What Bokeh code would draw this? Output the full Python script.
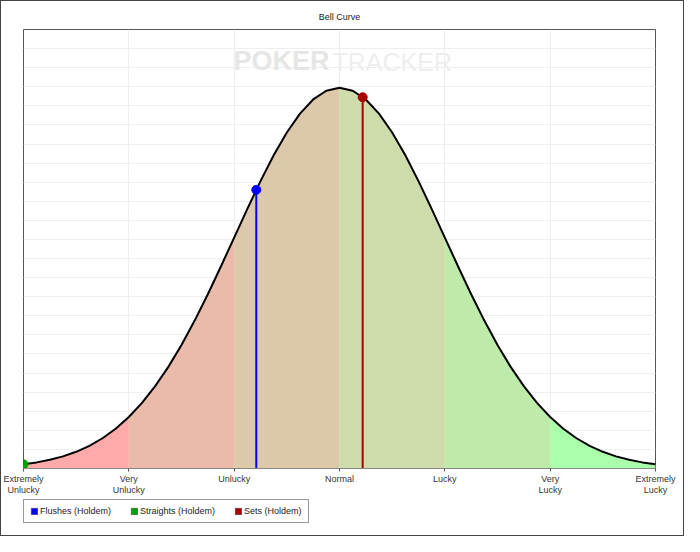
from bokeh.plotting import figure
from bokeh.layouts import column
from bokeh.models import (Range1d, FixedTicker, SingleIntervalTicker, Grid,
                          Legend, LegendItem, Label, ColumnDataSource)
from bokeh.embed import file_html
from bokeh.resources import INLINE

# ---- data ----
deviation = [-3.0, -2.875, -2.75, -2.625, -2.5, -2.375, -2.25, -2.125,
             -2.0, -1.875, -1.75, -1.625, -1.5, -1.375, -1.25, -1.125,
             -1.0, -0.875, -0.75, -0.625, -0.5, -0.375, -0.25, -0.125,
             0.0, 0.125, 0.25, 0.375, 0.5, 0.625, 0.75, 0.875,
             1.0, 1.125, 1.25, 1.375, 1.5, 1.625, 1.75, 1.875,
             2.0, 2.125, 2.25, 2.375, 2.5, 2.625, 2.75, 2.875, 3.0]
density = [0.0044, 0.0064, 0.0091, 0.0127, 0.0175, 0.0238, 0.0317, 0.0417,
           0.0540, 0.0688, 0.0863, 0.1065, 0.1295, 0.1550, 0.1826, 0.2119,
           0.2420, 0.2721, 0.3011, 0.3282, 0.3521, 0.3719, 0.3867, 0.3958,
           0.3989, 0.3958, 0.3867, 0.3719, 0.3521, 0.3282, 0.3011, 0.2721,
           0.2420, 0.2119, 0.1826, 0.1550, 0.1295, 0.1065, 0.0863, 0.0688,
           0.0540, 0.0417, 0.0317, 0.0238, 0.0175, 0.0127, 0.0091, 0.0064, 0.0044]

band_edges = [-3, -2, -1, 0, 1, 2, 3]
band_colors = ["#FFAAAA", "#E9BBA8", "#DEC8AA", "#CEDBAA", "#BEEAAA", "#AAFFAA"]

tick_values = [-3, -2, -1, 0, 1, 2, 3]
tick_labels = ["Extremely\nUnlucky", "Very\nUnlucky", "Unlucky", "Normal",
               "Lucky", "Very\nLucky", "Extremely\nLucky"]

hand_names = ["Flushes (Holdem)", "Straights (Holdem)", "Sets (Holdem)"]
hand_x = [-0.79, -3.0, 0.22]
hand_y = [0.292, 0.0044, 0.389]
hand_colors = ["#0000FF", "#00A000", "#AA0000"]

FONT = "Liberation Sans"
FS = "9px"

p = figure(width=682, height=496, output_backend="svg", toolbar_location=None,
           x_range=Range1d(-3, 3), y_range=Range1d(0, 0.46),
           y_axis_location=None,
           min_border_left=22, min_border_right=28, min_border_top=28,
           min_border_bottom=26)

p.title.text = "Bell Curve"
p.title.align = "center"
p.title.text_font = FONT
p.title.text_font_size = FS
p.title.text_font_style = "normal"
p.title.text_color = "#222222"
p.title.standoff = 16

p.outline_line_color = "#555555"
p.background_fill_color = "white"
p.border_fill_color = "white"

# grids
p.xgrid.ticker = FixedTicker(ticks=tick_values)
p.xgrid.grid_line_color = "#EEEEEE"
p.add_layout(Grid(dimension=1, ticker=SingleIntervalTicker(interval=0.02),
                  grid_line_color="#EEEEEE"))

# x axis
ax = p.xaxis[0]
ax.ticker = FixedTicker(ticks=tick_values)
ax.major_label_overrides = {v: l for v, l in zip(tick_values, tick_labels)}
ax.major_label_text_font = FONT
ax.major_label_text_font_size = FS
ax.major_label_text_color = "#333333"
ax.major_label_text_line_height = 1.1
ax.major_tick_in = 0
ax.major_tick_out = 3
ax.major_tick_line_color = "#555555"
ax.minor_tick_line_color = None
ax.axis_line_color = "#888888"
ax.major_label_standoff = 2

# watermark
p.add_layout(Label(x=-0.095, y=0.4114, text="POKER", text_align="right",
                   text_font=FONT, text_font_style="bold",
                   text_font_size="27px", text_color="#E6E6E6",
                   level="underlay"))
p.add_layout(Label(x=-0.066, y=0.4114, text="TRACKER", text_align="left",
                   text_font=FONT, text_font_size="25px",
                   text_color="#EEEEEE", level="underlay"))

# coloured bands under the curve
for i, c in enumerate(band_colors):
    lo, hi = band_edges[i], band_edges[i + 1]
    xs = [x for x in deviation if lo <= x <= hi]
    ys = [y for x, y in zip(deviation, density) if lo <= x <= hi]
    p.varea(x=xs, y1=[0] * len(xs), y2=ys, fill_color=c, fill_alpha=1.0)

p.line(deviation, density, line_color="black", line_width=2)

src = ColumnDataSource(dict(x=hand_x, y=hand_y, c=hand_colors,
                            zero=[0] * len(hand_x)))
p.segment(x0="x", y0="zero", x1="x", y1="y", line_color="c", line_width=2,
          source=src)
p.scatter("x", "y", size=9, fill_color="c", line_color="c", source=src)

# legend strip below the chart
lf = figure(width=682, height=38, output_backend="svg", toolbar_location=None,
            x_axis_location=None, y_axis_location=None,
            min_border_left=22, min_border_right=28, min_border_top=0,
            min_border_bottom=0, x_range=Range1d(5, 6), y_range=Range1d(5, 6))
lf.outline_line_color = None
lf.xgrid.visible = False
lf.ygrid.visible = False
lf.border_fill_color = "white"

# zero-size swatches (outside the strip's range) that only feed the legend
swatch = lf.quad(left="x", right="x", top="y", bottom="y", fill_color="c",
                 line_color="#333333", line_width=0.5, source=src)
items = [LegendItem(label=name, renderers=[swatch], index=i)
         for i, name in enumerate(hand_names)]

legend = Legend(items=items, orientation="horizontal", location=(0, 12),
                glyph_width=8, glyph_height=8, label_standoff=2, spacing=19,
                padding=6, margin=0, border_line_color="#333333",
                border_line_width=1, background_fill_color="white",
                background_fill_alpha=1.0,
                label_text_font=FONT, label_text_font_size=FS,
                label_text_color="#222222", label_height=10)
lf.add_layout(legend, "center")

layout = column(p, lf, spacing=0)
layout.styles = {"border": "1px solid #444444", "background-color": "white"}

open("out.html", "w").write(file_html(layout, INLINE))
